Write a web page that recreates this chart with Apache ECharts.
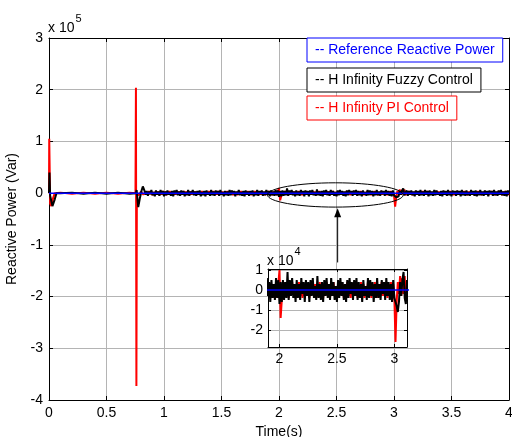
<!DOCTYPE html>
<html><head><meta charset="utf-8">
<script src="https://cdn.jsdelivr.net/npm/echarts@6/dist/echarts.min.js"></script>
<style>html,body{margin:0;padding:0;background:#fff}#c{width:512px;height:437px}</style>
</head><body><div id="c"></div>
<script>
// ---------- data (values in kVar unless noted) ----------
const seriesNames = ['Reference Reactive Power', 'H Infinity Fuzzy Control', 'H Infinity PI Control'];
const refT = [0, 4];
const refV = [0, 0];

const piTransientT = [0, 0.002, 0.005, 0.01, 0.02, 0.035, 0.05, 0.1, 0.2, 0.3, 0.4, 0.5, 0.6, 0.7, 0.752, 0.756, 0.760, 0.764, 0.78, 0.8, 0.82, 0.84];
const piTransientV = [0, 105, 60, -20, -25, -10, 0, 1, -1, 1, -1, 1, -1, 1, 0, 204, -373, 0, -4, 3, -3, 2];

const fuzzyTransientT = [0, 0.004, 0.01, 0.03, 0.05, 0.065, 0.075, 0.1, 0.2, 0.3, 0.4, 0.5, 0.6, 0.7, 0.755, 0.762, 0.776, 0.79, 0.805, 0.816, 0.83, 0.84];
const fuzzyTransientV = [0, 40, -5, -25, -12, 0, 3, 0, 1, -1, 1, -1, 1, -1, 0, 6, -27, -10, 5, 13, 5, -3];

// steady-state samples from t = 0.85 s to 4.00 s, every 0.01 s
const noiseStart = 0.85;
const noiseStep = 0.01;
const fuzzyNoise = [
  4,-5,3,-2,6,-4,2,-6,5,-3,
  3,-5,6,-2,4,-6,3,-4,5,-3,
  2,-5,4,-6,5,-2,6,-4,3,-5,
  5,-3,4,-6,2,-4,6,-5,3,-2,
  6,-4,3,-5,4,-3,5,-6,2,-4,
  4,-6,5,-3,2,-5,6,-4,3,-5,
  5,-2,4,-5,6,-3,2,-6,4,-4,
  3,-5,6,-4,5,-2,4,-6,3,-3,
  6,-4,2,-5,4,-6,5,-3,3,-5,
  4,-3,5,-6,2,-4,6,-5,4,-2,
  5,-5,3,-4,6,-3,4,-6,5,-4,
  3,-5,6,-4,5,-7,4,-6,5,-5,
  4,-4,9,-5,5,-3,6,-4,3,-6,
  5,-4,3,-5,6,-2,4,-6,5,-3,
  4,-6,5,-3,6,-4,2,-5,7,-4,
  3,-5,4,-6,5,-3,6,-4,3,-5,
  6,-3,4,-5,2,-6,5,-4,6,-3,
  4,-5,3,-6,5,-4,6,-2,4,-5,
  5,-3,6,-5,4,-4,3,-6,5,-3,
  2,-5,6,-4,5,-3,4,-6,3,-4,
  6,-4,3,-5,5,-2,4,-5,6,-3,
  4,-5,3,-6,5,-4,-6,-8,-11,-6,
  4,-3,5,9,-4,-7,5,-5,4,-3,
  5,-4,3,-6,5,-3,4,-5,6,-4,
  3,-5,6,-3,4,-6,5,-4,3,-5,
  6,-4,5,-3,2,-5,4,-6,5,-3,
  4,-5,6,-4,3,-6,5,-2,4,-5,
  5,-3,4,-6,6,-4,3,-5,5,-4,
  2,-5,6,-3,4,-5,5,-6,3,-4,
  6,-4,3,-5,5,-3,4,-6,5,-2,
  4,-5,6,-4,3,-5,5,-3,6,-4,
  3,-5,4,-6,5,-3
];
const piNoise = [
  3,-3,4,-2,3,-4,2,-3,4,-3,
  3,-4,2,-3,4,-2,3,-4,3,-2,
  4,-3,3,-4,2,-3,4,-2,3,-4,
  2,-3,4,-3,3,-2,4,-4,3,-3,
  4,-2,3,-4,3,-3,2,-4,4,-3,
  3,-4,2,-3,4,-3,3,-2,4,-4,
  2,-3,4,-4,3,-2,3,-4,2,-3,
  4,-3,3,-2,4,-4,3,-3,2,-4,
  3,-2,4,-3,3,-4,2,-3,4,-2,
  3,-4,3,-2,4,-3,2,-4,3,-3,
  4,-3,2,-4,3,-3,4,-2,3,-4,
  3,-3,4,-4,3,10,-14,-5,3,-3,
  4,-2,3,-4,3,-3,4,-2,3,-4,
  2,-3,4,-3,3,-4,2,-3,4,-3,
  3,-4,3,-2,4,-3,3,-4,2,-3,
  4,-3,2,-4,3,-3,4,-2,3,-4,
  3,-2,4,-3,2,-4,3,-3,4,-2,
  3,-4,2,-3,4,-3,3,-4,3,-2,
  4,-3,3,-4,2,-3,4,-3,3,-4,
  2,-3,4,-2,3,-4,3,-3,4,-3,
  3,-4,2,-3,4,-3,3,-2,4,-4,
  3,-3,4,-2,3,-4,-26,-6,4,-2,
  7,-3,6,-2,7,-4,3,-3,4,-2,
  3,-4,2,-3,4,-3,3,-4,2,-3,
  4,-3,3,-2,4,-4,3,-3,2,-4,
  3,-2,4,-3,3,-4,2,-3,4,-3,
  3,-4,3,-2,4,-3,2,-4,3,-3,
  4,-3,2,-4,3,-3,4,-2,3,-4,
  3,-2,4,-3,2,-4,3,-3,4,-2,
  3,-4,2,-3,4,-3,3,-4,3,-2,
  4,-3,3,-4,2,-3,4,-3,3,-4,
  3,-2,4,-3,3,-4
];

const insetXTicks = [2, 2.5, 3];
const insetYTicks = [-2, -1, 0, 1];   // x 10^4 Var

// ---------- build ----------
function build(tT, tV, noise) {
  const out = [];
  for (let i = 0; i < tT.length; i++) out.push([tT[i], tV[i] * 1000]);
  for (let i = 0; i < noise.length; i++) out.push([+(noiseStart + i * noiseStep).toFixed(2), noise[i] * 1000]);
  return out;
}
const refData = refT.map((t, i) => [t, refV[i] * 1000]);
const fuzzyData = build(fuzzyTransientT, fuzzyTransientV, fuzzyNoise);
const piData = build(piTransientT, piTransientV, piNoise);

const FONT = 'Liberation Sans';
const FS = 14;
const chart = echarts.init(document.getElementById('c'), null, {renderer: 'canvas'});
const labelStyle = {color: '#000', fontSize: FS, fontFamily: FONT};
const lineBlack = {show: true, onZero: false, lineStyle: {color: '#000', width: 1}};
const gridLine = {show: true, lineStyle: {color: '#b4b4b4', width: 1}};

function mkSeries(xi, yi, zb, bw) {
  return [
    {name: seriesNames[2], type: 'line', xAxisIndex: xi, yAxisIndex: yi, data: piData, showSymbol: false, symbol: 'none',
     lineStyle: {color: '#ff0000', width: 2}, itemStyle: {color: '#ff0000'}, animation: false, z: zb, silent: true, clip: true},
    {name: seriesNames[1], type: 'line', xAxisIndex: xi, yAxisIndex: yi, data: fuzzyData, showSymbol: false, symbol: 'none',
     lineStyle: {color: '#000000', width: bw}, itemStyle: {color: '#000'}, animation: false, z: zb + 1, silent: true, clip: true},
    {name: seriesNames[0], type: 'line', xAxisIndex: xi, yAxisIndex: yi, data: refData, showSymbol: false, symbol: 'none',
     lineStyle: {color: '#0000ff', width: 1.5}, itemStyle: {color: '#0000ff'}, animation: false, z: zb + 2, silent: true, clip: true}
  ];
}

function legendFor(name, color, top) {
  return {
    data: [{name: name, icon: 'none'}], left: 307, top: top, orient: 'horizontal',
    itemWidth: 0, itemHeight: 0, itemGap: 0, selectedMode: false,
    formatter: '-- {name}', padding: [5, 8, 5, 3],
    backgroundColor: '#fff', borderColor: color, borderWidth: 1, borderRadius: 0,
    textStyle: {color: color, fontSize: FS, fontFamily: FONT}, z: 30
  };
}

const option = {
  animation: false,
  backgroundColor: '#fff',
  textStyle: {fontFamily: FONT},
  grid: [
    {left: 49, right: 3, top: 38, bottom: 37, containLabel: false, outerBoundsMode: 'none'},
    {left: 268, right: 105, top: 269, bottom: 90, containLabel: false, outerBoundsMode: 'none', show: true, backgroundColor: '#fff', borderWidth: 0, z: 5}
  ],
  legend: [
    legendFor(seriesNames[0], '#0000ff', 38),
    legendFor(seriesNames[1], '#000000', 68),
    legendFor(seriesNames[2], '#ff0000', 96)
  ],
  xAxis: [
    {gridIndex: 0, type: 'value', min: 0, max: 4, interval: 0.5, position: 'bottom',
     axisLine: lineBlack, axisTick: {show: true, inside: true, length: 4, lineStyle: {color: '#000'}},
     axisLabel: Object.assign({margin: 6, formatter: v => String(v)}, labelStyle), splitLine: gridLine,
     name: 'Time(s)', nameLocation: 'middle', nameGap: 23, nameTextStyle: {color: '#000', fontSize: FS, fontFamily: FONT}},
    {gridIndex: 0, type: 'value', min: 0, max: 4, interval: 0.5, position: 'top',
     axisLine: lineBlack, axisTick: {show: true, inside: true, length: 4, lineStyle: {color: '#000'}},
     axisLabel: {show: false}, splitLine: {show: false}},
    {gridIndex: 1, type: 'value', min: 1.9, max: 3.11, position: 'bottom', z: 6,
     axisLine: lineBlack, axisTick: {show: true, inside: true, length: 3, lineStyle: {color: '#000'}, customValues: insetXTicks},
     axisLabel: Object.assign({margin: 5, customValues: insetXTicks, formatter: v => String(v)}, labelStyle), splitLine: gridLine},
    {gridIndex: 1, type: 'value', min: 1.9, max: 3.11, position: 'top', z: 6,
     axisLine: lineBlack, axisTick: {show: true, inside: true, length: 3, lineStyle: {color: '#000'}, customValues: insetXTicks},
     axisLabel: {show: false}, splitLine: {show: false}}
  ],
  yAxis: [
    {gridIndex: 0, type: 'value', min: -4e5, max: 3e5, interval: 1e5, position: 'left',
     axisLine: lineBlack, axisTick: {show: true, inside: true, length: 4, lineStyle: {color: '#000'}},
     axisLabel: Object.assign({margin: 6, formatter: v => String(Math.round(v / 1e5))}, labelStyle), splitLine: gridLine,
     name: 'Reactive Power (Var)', nameLocation: 'middle', nameGap: 30, nameRotate: 90,
     nameTextStyle: {color: '#000', fontSize: FS, fontFamily: FONT}},
    {gridIndex: 0, type: 'value', min: -4e5, max: 3e5, interval: 1e5, position: 'right',
     axisLine: lineBlack, axisTick: {show: true, inside: true, length: 4, lineStyle: {color: '#000'}},
     axisLabel: {show: false}, splitLine: {show: false}},
    {gridIndex: 1, type: 'value', min: -2.85e4, max: 1.05e4, position: 'left', z: 6,
     axisLine: lineBlack, axisTick: {show: true, inside: true, length: 3, lineStyle: {color: '#000'}, customValues: insetYTicks.map(v => v * 1e4)},
     axisLabel: Object.assign({margin: 5, customValues: insetYTicks.map(v => v * 1e4), formatter: v => String(Math.round(v / 1e4))}, labelStyle),
     splitLine: gridLine},
    {gridIndex: 1, type: 'value', min: -2.85e4, max: 1.05e4, position: 'right', z: 6,
     axisLine: lineBlack, axisTick: {show: true, inside: true, length: 3, lineStyle: {color: '#000'}, customValues: insetYTicks.map(v => v * 1e4)},
     axisLabel: {show: false}, splitLine: {show: false}}
  ],
  series: mkSeries(0, 0, 2, 2).concat(mkSeries(2, 2, 12, 2))
};
chart.setOption(option);

// annotations positioned from data coordinates
const eA = chart.convertToPixel({gridIndex: 0}, [1.9, 0.2e5]);
const eB = chart.convertToPixel({gridIndex: 0}, [3.08, -0.27e5]);
const aTop = chart.convertToPixel({gridIndex: 0}, [2.51, -0.29e5]);
const aBot = chart.convertToPixel({gridIndex: 0}, [2.51, -1.34e5]);
const g0 = chart.convertToPixel({gridIndex: 0}, [0, 3e5]);
const g1 = chart.convertToPixel({gridIndex: 1}, [1.9, 1.05e4]);
const rich = {a: {fontSize: FS, fontFamily: FONT, fill: '#000', padding: [8, 0, 0, 0]}, b: {fontSize: 11, fontFamily: FONT, fill: '#000', verticalAlign: 'top', padding: [0, 0, 8, 1]}};
chart.setOption({
  graphic: [
    {type: 'ellipse', shape: {cx: (eA[0] + eB[0]) / 2, cy: (eA[1] + eB[1]) / 2, rx: (eB[0] - eA[0]) / 2, ry: (eB[1] - eA[1]) / 2},
     style: {fill: null, stroke: '#000', lineWidth: 1}, z: 20, silent: true},
    {type: 'line', shape: {x1: aBot[0], y1: aBot[1], x2: aTop[0], y2: aTop[1] + 6}, style: {stroke: '#000', lineWidth: 1}, z: 20},
    {type: 'polygon', shape: {points: [[aTop[0], aTop[1]], [aTop[0] - 3.5, aTop[1] + 9], [aTop[0] + 3.5, aTop[1] + 9]]},
     style: {fill: '#000'}, z: 20},
    {type: 'text', left: g0[0] - 1, top: g0[1] - 25, z: 20, style: {text: '{a|x 10}{b|5}', rich: rich}},
    {type: 'text', left: g1[0] - 1, top: g1[1] - 23, z: 20, style: {text: '{a|x 10}{b|4}', rich: rich}}
  ]
});
</script></body></html>
